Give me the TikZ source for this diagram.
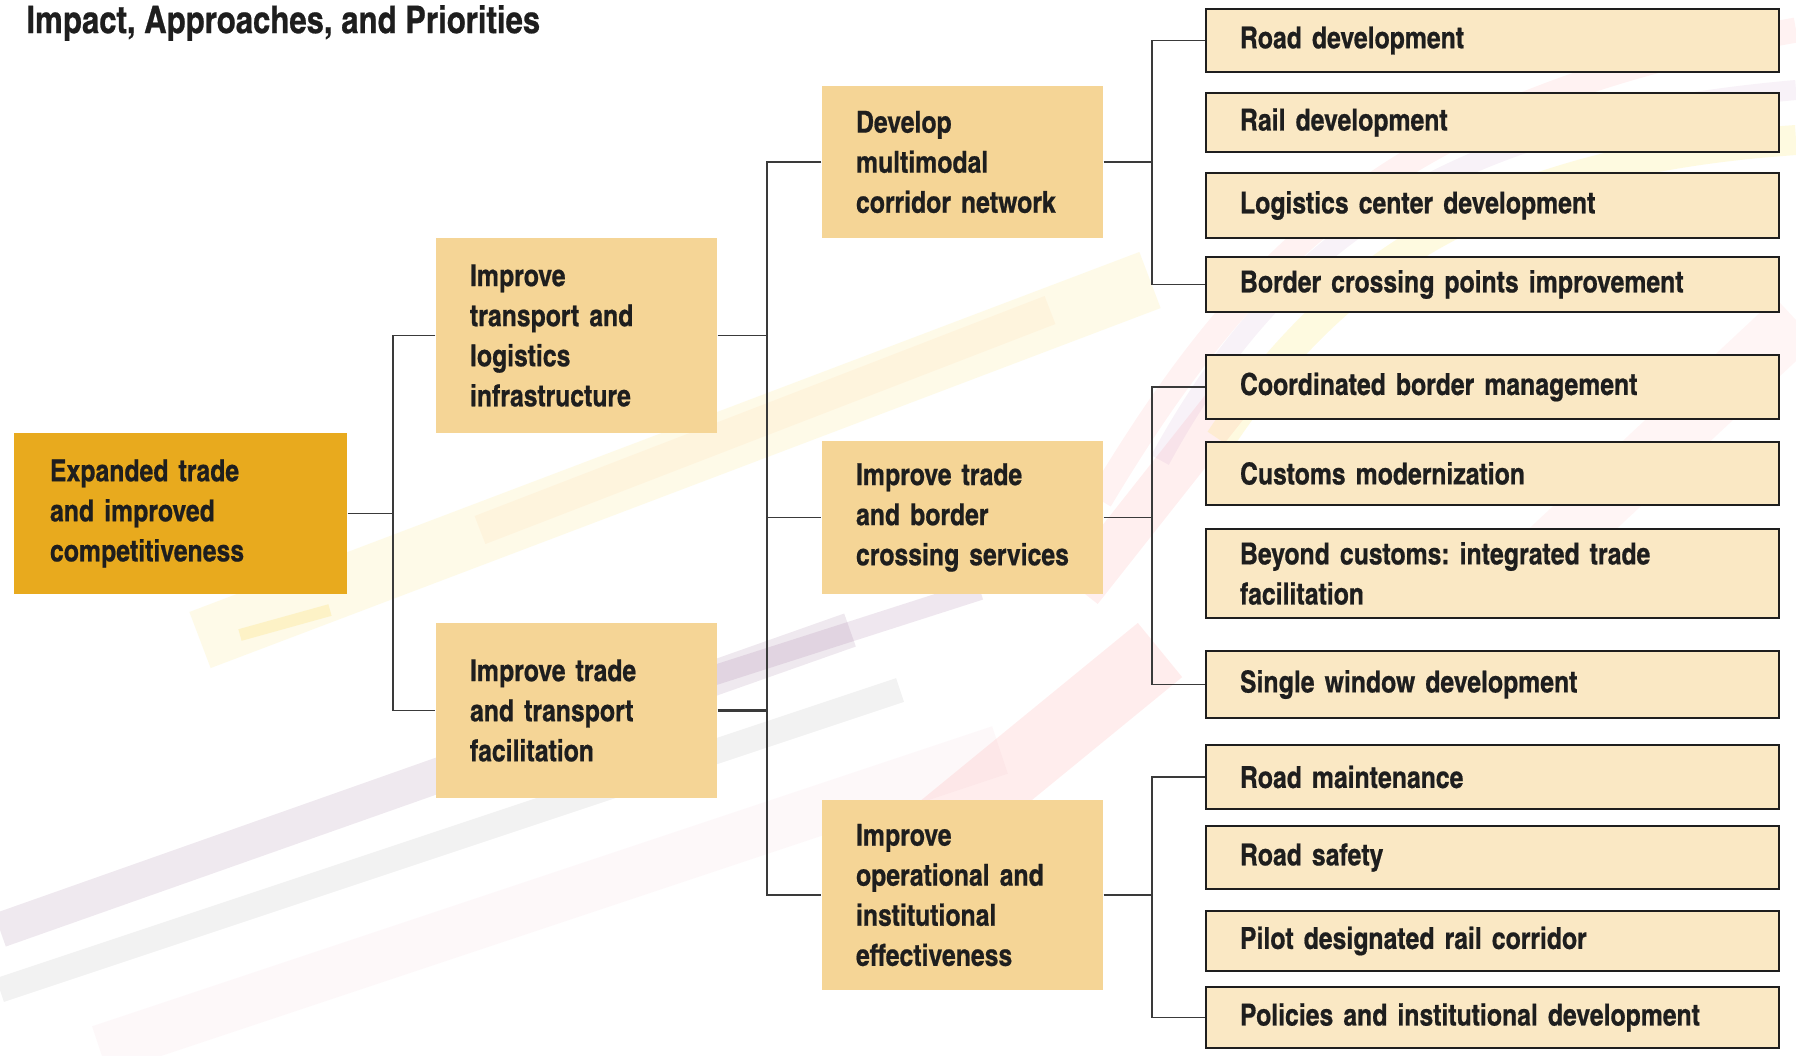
\documentclass[tikz,border=0pt]{standalone}
\usepackage{fontspec}
\setmainfont{texgyreheroscn}[Extension=.otf, UprightFont=*-regular,
  BoldFont=*-bold, BoldFeatures={FakeBold=0.6}]
\usepackage{xcolor}
\usepackage{tikz}
\usetikzlibrary{calc}

\definecolor{goal}{HTML}{E8AA1E}
\definecolor{mid}{HTML}{F5D596}
\definecolor{leaffill}{HTML}{FAE8C4}
\definecolor{ink}{HTML}{1E1E1E}
\definecolor{wire}{HTML}{3A3A3A}

\begin{document}
\frenchspacing
\begin{tikzpicture}[font=\bfseries\fontsize{8.6}{11.4}\selectfont,
    goalbox/.style={fill=goal, text=ink, align=left, inner xsep=0.36cm,
      text width=2.61cm, minimum height=1.61cm},
    midbox/.style={fill=mid, text=ink, align=left, inner xsep=0.34cm,
      text width=2.13cm},
    leafbox/.style={fill=leaffill, draw=ink, line width=0.6pt, text=ink,
      align=left, inner xsep=0.34cm, text width=5.05cm},
    wire/.style={draw=wire, line width=0.5pt}]
    \useasboundingbox (0,0) rectangle (17.96,-10.55);
    \fill[white] (0,0) rectangle (17.96,-10.55);
    % faint streaks in the background
    \begin{scope}[line cap=butt]
      \draw[line width=0.35cm, violet!40!gray, opacity=0.12] (0,-9.3) -- (8.5,-6.3);
      \draw[line width=0.25cm, gray, opacity=0.10] (0,-9.9) -- (9.0,-6.9);
      \draw[line width=0.5cm, purple!35, opacity=0.08] (1.0,-10.5) -- (10,-7.5);
      \draw[line width=0.2cm, violet!50!gray, opacity=0.12] (4.5,-7.6) -- (9.8,-5.9);
      \draw[line width=0.6cm, yellow!70!orange, opacity=0.09] (2,-6.4) -- (11.5,-2.8);
      \draw[line width=0.3cm, orange!60, opacity=0.08] (4.8,-5.3) -- (10.5,-3.1);
      \draw[line width=0.7cm, red!55, opacity=0.12] (9.4,-8.3) -- (11.6,-6.5);
      \draw[line width=0.45cm, red!60, opacity=0.10] (10.8,-5.9) -- (12.3,-4.0);
      \draw[line width=0.25cm, red!50, opacity=0.10] (11,-5) .. controls (12.5,-2.5) and (14,-1) .. (17.96,-0.3);
      \draw[line width=0.2cm, violet!50, opacity=0.10] (11.6,-4.6) .. controls (12.8,-2.4) and (14.5,-1.2) .. (17.96,-0.9);
      \draw[line width=0.3cm, yellow!80!orange, opacity=0.12] (12.2,-4.4) .. controls (13.4,-2.6) and (15,-1.6) .. (17.96,-1.4);
      \draw[line width=0.6cm, red!45, opacity=0.08] (15.5,-5.5) -- (17.96,-3.2);
      \draw[line width=0.12cm, yellow!60!orange, opacity=0.15] (2.4,-6.35) -- (3.3,-6.1);
    \end{scope}
    \node[anchor=base west, font=\bfseries\fontsize{10.8}{13}\selectfont, text=ink]
      (title) at (0.14,-0.33) {Impact, Approaches, and Priorities};
    % impact, approaches, priorities
    \node[goalbox] (goal) at (1.805,-5.135)
      {Expanded trade\\and improved\\competitiveness};
    \node[midbox, minimum height=1.95cm] (infra) at (5.765,-3.355)
      {Improve\\transport and\\logistics\\infrastructure};
    \node[midbox, minimum height=1.75cm] (facil) at (5.765,-7.105)
      {Improve trade\\and transport\\facilitation};
    \node[midbox, minimum height=1.52cm] (corr) at (9.625,-1.62)
      {Develop\\multimodal\\corridor network};
    \node[midbox, minimum height=1.53cm] (border) at (9.625,-5.175)
      {Improve trade\\and border\\crossing services};
    \node[midbox, minimum height=1.90cm] (oper) at (9.625,-8.95)
      {Improve\\operational and\\institutional\\effectiveness};
    \foreach \i/\y/\h/\txt in {
      1/-0.405/0.63/Road development,
      2/-1.225/0.59/Rail development,
      3/-2.055/0.65/Logistics center development,
      4/-2.845/0.55/Border crossing points improvement,
      5/-3.87/0.64/Coordinated border management,
      6/-4.735/0.63/Customs modernization,
      7/-5.735/0.89/Beyond customs: integrated trade\\facilitation,
      8/-6.845/0.67/Single window development,
      9/-7.77/0.64/Road maintenance,
      10/-8.575/0.63/Road safety,
      11/-9.41/0.60/Pilot designated rail corridor,
      12/-10.175/0.61/Policies and institutional development} {
      \node[leafbox, minimum height=\h cm] (leaf\i) at (14.925,\y) {\txt};
    }
    % connectors
    \coordinate (j1) at (3.93,-5.135);
    \coordinate (j2) at (7.67,-5.175);
    \coordinate (k1) at (11.52,-1.62);
    \coordinate (k2) at (11.52,-5.175);
    \coordinate (k3) at (11.52,-8.95);
    \draw[wire] (goal.east) -- (j1);
    \draw[wire] (infra.west) -| (j1) |- (facil.west);
    \draw[wire] (corr.west) -| (j2) |- (oper.west);
    \draw[wire] (infra.east) -- (infra.east -| j2);
    \draw[wire, line width=0.8pt] (facil.east) -- (facil.east -| j2);
    \draw[wire] (j2) -- (border.west);
    \draw[wire] (corr.east) -- (k1);
    \draw[wire] (leaf1.west) -| (k1) |- (leaf4.west);
    \draw[wire] (border.east) -- (k2);
    \draw[wire] (leaf5.west) -| (k2) |- (leaf8.west);
    \draw[wire] (oper.east) -- (k3);
    \draw[wire] (leaf9.west) -| (k3) |- (leaf12.west);
\end{tikzpicture}
\end{document}
